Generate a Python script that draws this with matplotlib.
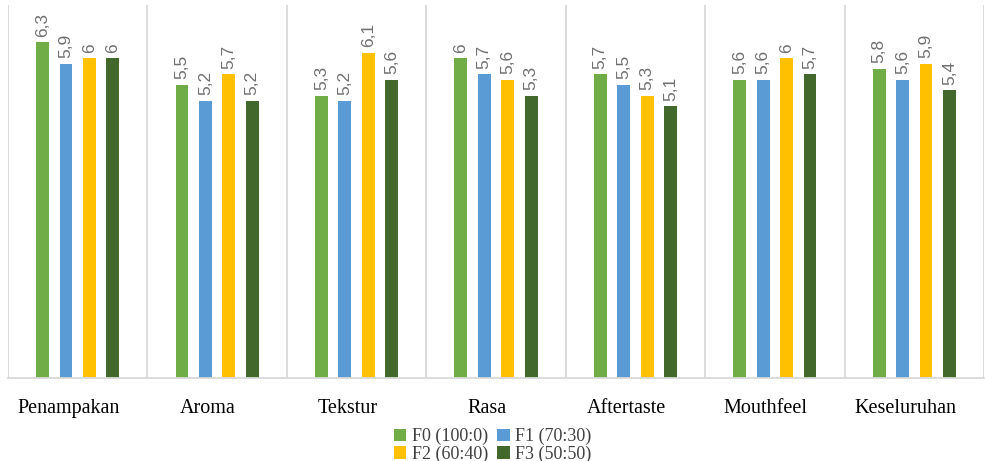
import numpy as np
import matplotlib
matplotlib.use("Agg")
import matplotlib.pyplot as plt
import matplotlib.transforms as mtransforms

categories = ["Penampakan", "Aroma", "Tekstur", "Rasa", "Aftertaste", "Mouthfeel", "Keseluruhan"]
series = ["F0 (100:0)", "F1 (70:30)", "F2 (60:40)", "F3 (50:50)"]
F0 = [6.3, 5.5, 5.3, 6.0, 5.7, 5.6, 5.8]
F1 = [5.9, 5.2, 5.2, 5.7, 5.5, 5.6, 5.6]
F2 = [6.0, 5.7, 6.1, 5.6, 5.3, 6.0, 5.9]
F3 = [6.0, 5.2, 5.6, 5.3, 5.1, 5.7, 5.4]
colors = ["#70AD47", "#5B9BD5", "#FFC000", "#43682B"]

fig = plt.figure(figsize=(9.85, 4.61), dpi=100)
ax = fig.add_axes([8/985, 1-378/461, 976/985, 373/461])

x = np.arange(len(categories))
w = 0.093
offs = [-0.252, -0.084, 0.084, 0.252]
handles = []
for vals, off, c, name in zip([F0, F1, F2, F3], offs, colors, series):
    bars = ax.bar(x + off, vals, w, color=c, label=name)
    handles.append(bars)
    for b, v in zip(bars, vals):
        txt = ("%g" % v).replace(".", ",")
        ax.annotate(txt, (b.get_x() + b.get_width()/2, v), xytext=(0, 4),
                    textcoords="offset points", rotation=90, ha="center", va="bottom",
                    fontsize=12.5, color="#707070", family="Liberation Sans")

ax.set_xlim(-0.5, len(categories) - 0.5)
ax.set_ylim(0, 7)
for i in range(len(categories) + 1):
    ax.axvline(i - 0.5, color="#d9d9d9", lw=1.3, zorder=0)
for s in ["top", "left", "right"]:
    ax.spines[s].set_visible(False)
ax.spines["bottom"].set_color("#d9d9d9")
ax.spines["bottom"].set_linewidth(1.3)
ax.set_yticks([])
ax.set_xticks(x)
ax.set_xticklabels(categories, family="Liberation Serif", fontsize=14.5)
ax.tick_params(axis="x", length=0, pad=15)
shift = mtransforms.ScaledTranslation(-9/100, 0, fig.dpi_scale_trans)
for lab in ax.get_xticklabels():
    lab.set_transform(lab.get_transform() + shift)

# row-wise order: F0 F1 / F2 F3
order = [0, 2, 1, 3]
fig.legend([handles[i] for i in order], [series[i] for i in order],
           loc="upper center", bbox_to_anchor=(0.5, 1-428/461), ncol=2, frameon=False,
           prop={"family": "Liberation Serif", "size": 13}, handlelength=0.7,
           handleheight=0.7, handletextpad=0.3, columnspacing=0.5, labelspacing=0.0,
           labelcolor="#404040", borderpad=0.0, borderaxespad=0.0)

fig.savefig("out.png", dpi=100)
